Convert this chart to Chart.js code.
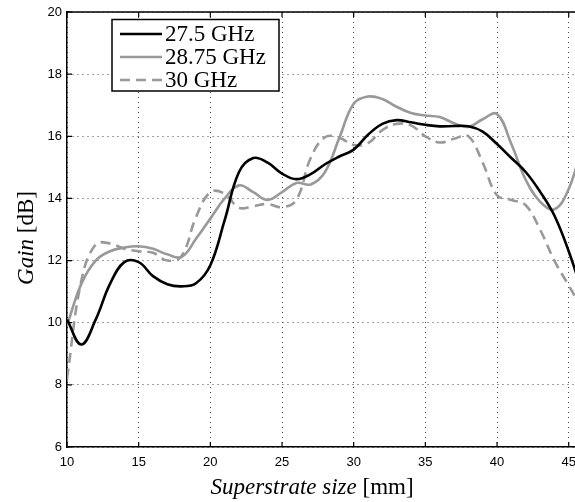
<!DOCTYPE html>
<html>
<head>
<meta charset="utf-8">
<script src="https://cdn.jsdelivr.net/npm/chart.js@4.4.0/dist/chart.umd.min.js"></script>
<style>
  html, body { margin: 0; padding: 0; background: #fff; overflow: hidden; }
  #wrap { width: 575px; height: 502px; }
</style>
</head>
<body>
<div id="wrap"><canvas id="gainChart" width="575" height="502"></canvas></div>
<script>
// superstrate size [mm]
const sizes = [10, 11, 12, 13, 14, 15, 16, 17, 18, 19, 20, 21, 22, 23, 24, 25, 26, 27, 28,
               29, 30, 31, 32, 33, 34, 35, 36, 37, 38, 39, 40, 41, 42, 43, 44, 45, 46];

// gain [dB]
const gain275 = [10.1, 9.3, 10.1, 11.25, 11.95, 11.95, 11.5, 11.24, 11.17, 11.27, 11.85, 13.3, 14.85,
                 15.3, 15.15, 14.8, 14.62, 14.78, 15.1, 15.35, 15.57, 16.05, 16.4, 16.52, 16.45, 16.37,
                 16.32, 16.33, 16.32, 16.15, 15.75, 15.3, 14.85, 14.22, 13.45, 12.3, 10.9];
const gain2875 = [9.9, 11.25, 12.0, 12.3, 12.42, 12.46, 12.38, 12.2, 12.12, 12.7, 13.35, 14.0, 14.42,
                  14.2, 13.95, 14.2, 14.5, 14.45, 14.85, 15.95, 17.05, 17.28, 17.2, 16.95, 16.75, 16.67,
                  16.62, 16.42, 16.3, 16.55, 16.72, 15.75, 14.6, 13.9, 13.65, 14.3, 15.8];
const gain30 = [8.2, 11.35, 12.52, 12.55, 12.38, 12.3, 12.25, 12.0, 12.15, 13.4, 14.2, 14.15, 13.7,
                13.75, 13.82, 13.72, 13.95, 15.3, 15.97, 15.95, 15.72, 15.78, 16.2, 16.4, 16.35, 16.0,
                15.8, 15.92, 16.0, 15.15, 14.1, 13.95, 13.78, 13.0, 12.0, 11.2, 10.4];

const seriesLabels = ['27.5 GHz', '28.75 GHz', '30 GHz'];
const xTicks = [10, 15, 20, 25, 30, 35, 40, 45];
const yTicks = [6, 8, 10, 12, 14, 16, 18, 20];

const serif = '"Liberation Serif", "Times New Roman", serif';
const sans = '"Liberation Sans", Arial, sans-serif';

const styles = [
    { color: '#000000', dash: [] },
    { color: '#999999', dash: [] },
    { color: '#999999', dash: [10, 6] }
];

const toPoints = ys => sizes.map((x, i) => ({ x: x, y: ys[i] }));

// legend box, axis titles, top border, inward ticks
const decorations = {
    id: 'decorations',
    afterDraw(chart) {
        const ctx = chart.ctx;
        const area = chart.chartArea;
        const xs = chart.scales.x, ys = chart.scales.y;

        ctx.save();
        ctx.strokeStyle = '#000';
        ctx.lineWidth = 1.5;
        ctx.beginPath();
        ctx.moveTo(area.left, area.top);
        ctx.lineTo(area.right, area.top);
        ctx.stroke();

        ctx.lineWidth = 1.2;
        ctx.beginPath();
        xTicks.forEach(v => {
            const px = xs.getPixelForValue(v);
            ctx.moveTo(px, area.bottom); ctx.lineTo(px, area.bottom - 5);
            ctx.moveTo(px, area.top); ctx.lineTo(px, area.top + 5);
        });
        yTicks.forEach(v => {
            const py = ys.getPixelForValue(v);
            ctx.moveTo(area.left, py); ctx.lineTo(area.left + 5, py);
        });
        ctx.stroke();

        // legend
        ctx.fillStyle = '#fff';
        ctx.fillRect(112, 19.5, 167, 71.5);
        ctx.strokeStyle = '#000';
        ctx.lineWidth = 1.5;
        ctx.strokeRect(112, 19.5, 167, 71.5);
        ctx.font = '23px ' + serif;
        ctx.textBaseline = 'middle';
        seriesLabels.forEach((label, i) => {
            const y = 34 + i * 23;
            ctx.strokeStyle = styles[i].color;
            ctx.lineWidth = 2.6;
            ctx.setLineDash(styles[i].dash);
            ctx.beginPath();
            ctx.moveTo(120, y);
            ctx.lineTo(162, y);
            ctx.stroke();
            ctx.setLineDash([]);
            ctx.fillStyle = '#000';
            ctx.fillText(label, 165, y + 1);
        });

        // x title
        ctx.textBaseline = 'alphabetic';
        ctx.fillStyle = '#000';
        const xPart1 = 'Superstrate size', xPart2 = ' [mm]';
        ctx.font = 'italic 23px ' + serif;
        const w1 = ctx.measureText(xPart1).width;
        ctx.font = '23px ' + serif;
        const w2 = ctx.measureText(xPart2).width;
        let x0 = 312 - (w1 + w2) / 2;
        ctx.font = 'italic 23px ' + serif;
        ctx.fillText(xPart1, x0, 494);
        ctx.font = '23px ' + serif;
        ctx.fillText(xPart2, x0 + w1, 494);

        // y title
        ctx.translate(33, 238);
        ctx.rotate(-Math.PI / 2);
        const yPart1 = 'Gain', yPart2 = ' [dB]';
        ctx.font = 'italic 23px ' + serif;
        const v1 = ctx.measureText(yPart1).width;
        ctx.font = '23px ' + serif;
        const v2 = ctx.measureText(yPart2).width;
        const y0 = -(v1 + v2) / 2;
        ctx.font = 'italic 23px ' + serif;
        ctx.fillText(yPart1, y0, 0);
        ctx.font = '23px ' + serif;
        ctx.fillText(yPart2, y0 + v1, 0);
        ctx.restore();
    }
};

const ctx = document.getElementById('gainChart').getContext('2d');
new Chart(ctx, {
    type: 'line',
    data: {
        datasets: [gain275, gain2875, gain30].map((ys, i) => ({
            label: seriesLabels[i],
            data: toPoints(ys),
            borderColor: styles[i].color,
            borderDash: styles[i].dash,
            borderWidth: 2.6,
            pointRadius: 0,
            fill: false,
            tension: 0.4
        }))
    },
    options: {
        responsive: false,
        animation: false,
        devicePixelRatio: 1,
        layout: { padding: { top: 12, right: 0, left: 0, bottom: 0 } },
        plugins: { legend: { display: false }, tooltip: { enabled: false } },
        scales: {
            x: {
                type: 'linear',
                min: 10,
                max: 45.44,
                afterBuildTicks: scale => { scale.ticks = xTicks.map(v => ({ value: v })); },
                afterFit: scale => { scale.height = 55; scale.paddingLeft = 0; scale.paddingRight = 0; },
                ticks: { color: '#000', font: { family: sans, size: 13 }, padding: 8, maxRotation: 0, autoSkip: false },
                grid: { color: '#444', lineWidth: 1, drawTicks: false },
                border: { display: true, color: '#000', width: 1.5, dash: [1, 4] }
            },
            y: {
                min: 6,
                max: 20,
                afterBuildTicks: scale => { scale.ticks = yTicks.map(v => ({ value: v })); },
                afterFit: scale => { scale.width = 67; scale.paddingTop = 0; scale.paddingBottom = 0; },
                ticks: { color: '#000', font: { family: sans, size: 13 }, padding: 5 },
                grid: { color: '#444', lineWidth: 1, drawTicks: false },
                border: { display: true, color: '#000', width: 1.5, dash: [1, 4] }
            }
        }
    },
    plugins: [decorations]
});
</script>
</body>
</html>
